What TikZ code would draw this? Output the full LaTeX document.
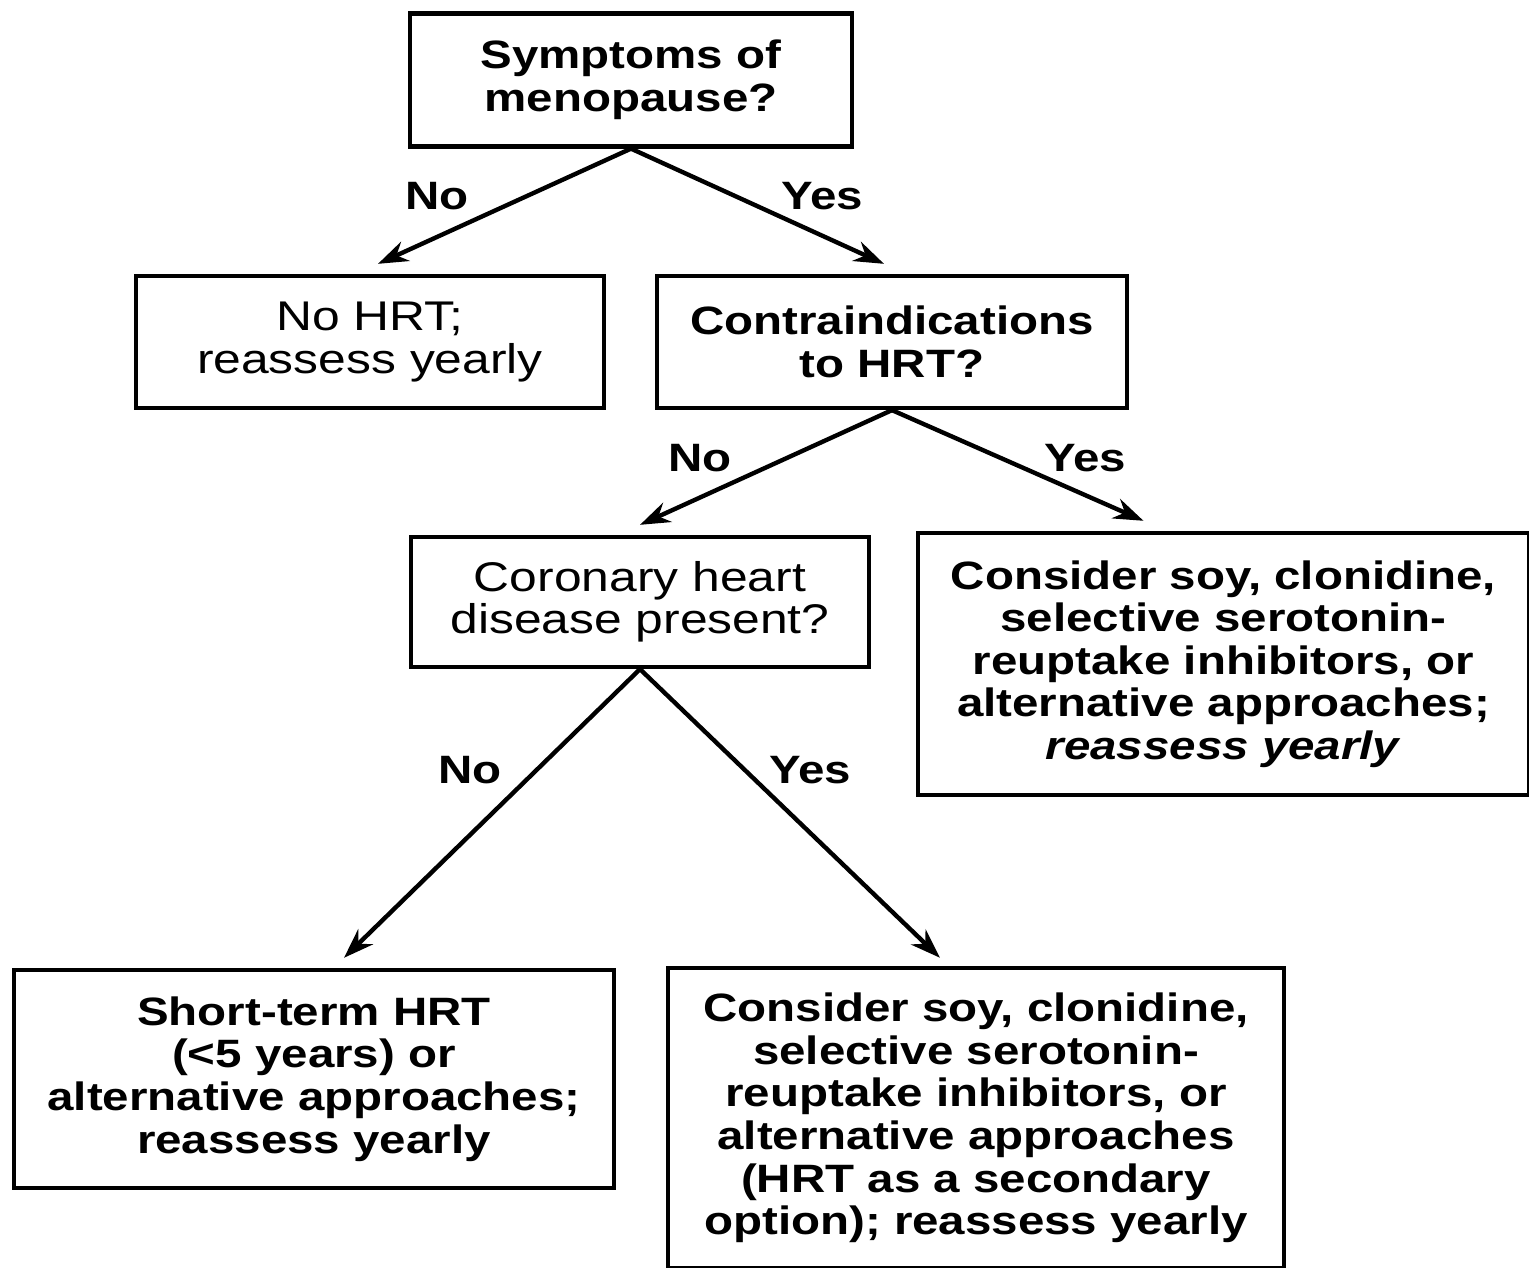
\documentclass[tikz,border=0pt]{standalone}
\usepackage{fontspec}
\setmainfont{Liberation Sans}[FakeStretch=1.2]
\usetikzlibrary{arrows.meta, positioning}
\newcommand{\tightlines}{\lineskiplimit=-20pt\relax}
\tikzset{
    plainbox/.style={
        rectangle,
        draw=black,
        line width=1.2pt,
        align=center,
        inner sep=0pt,
        fill=white,
        font=\fontsize{11.8pt}{12.1pt}\selectfont\tightlines
    },
    boldbox/.style={
        plainbox,
        font=\bfseries\fontsize{11.25pt}{12.1pt}\selectfont\tightlines
    },
    arrow/.style={
        draw=black,
        line width=1.25pt,
        -{Stealth[length=0.3cm, width=0.21cm]}
    },
    answer/.style={
        font=\bfseries\fontsize{11.25pt}{14pt}\selectfont,
        inner sep=0pt
    }
}
\begin{document}
\begin{tikzpicture}[x=0.01cm, y=-0.01cm]
\useasboundingbox (0,0) rectangle (1529,1268);

% Questions
\node[boldbox, minimum width=4.42cm, minimum height=1.33cm] (sym) at (631,80) {Symptoms of\\menopause?};
\node[plainbox, minimum width=4.67cm, minimum height=1.32cm] (nohrt) at (370,342) {No HRT;\\reassess yearly};
\node[boldbox, minimum width=4.70cm, minimum height=1.32cm] (contra) at (892,342) {Contraindications\\to HRT?};
\node[plainbox, minimum width=4.57cm, minimum height=1.30cm] (chd) at (640,602) {Coronary heart\\disease present?};

% Outcomes
\node[boldbox, minimum width=6.11cm, minimum height=2.62cm] (altone) at (1223.5,664) {Consider soy, clonidine,\\selective serotonin-\\reuptake inhibitors, or\\alternative approaches;\\\textit{reassess yearly}};
\node[boldbox, minimum width=5.99cm, minimum height=2.18cm] (shortterm) at (314,1079) {Short-term HRT\\(<5 years) or\\alternative approaches;\\reassess yearly};
\node[boldbox, minimum width=6.16cm, minimum height=3.00cm] (alttwo) at (976,1118) {Consider soy, clonidine,\\selective serotonin-\\reuptake inhibitors, or\\alternative approaches\\(HRT as a secondary\\option); reassess yearly};

% Branches
\draw[arrow] (sym.south) -- ([shift={(8,-10)}]nohrt.north);
\draw[arrow] (sym.south) -- ([shift={(-8,-10)}]contra.north);
\draw[arrow] (contra.south) -- ([shift={(0,-10)}]chd.north);
\draw[arrow] (contra.south) -- ([shift={(-80,-10)}]altone.north);
\draw[arrow] (chd.south) -- ([shift={(30,-10)}]shortterm.north);
\draw[arrow] (chd.south) -- ([shift={(-36,-8)}]alttwo.north);

% Answers
\node[answer] (symno) at (437,196) {No};
\node[answer] (symyes) at (822,196) {Yes};
\node[answer] (contrano) at (700,458) {No};
\node[answer] (contrayes) at (1085,458) {Yes};
\node[answer] (chdno) at (470,770) {No};
\node[answer] (chdyes) at (810,770) {Yes};

\end{tikzpicture}
\end{document}
